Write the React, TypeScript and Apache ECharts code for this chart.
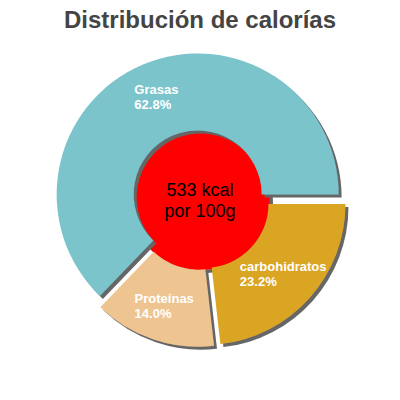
import * as echarts from "echarts";
import { useEffect, useRef } from "react";

const categories = ["Grasas", "Proteínas", "carbohidratos"];
const percents = [62.8, 14.0, 23.2];
const colors = ["#7bc4cc", "#eec591", "#daa520"];
const centerLines = ["533 kcal", "por 100g"];

const FONT = "'Liberation Sans', Arial, sans-serif";

export default function App(): React.ReactElement {
  const ref = useRef<HTMLDivElement | null>(null);

  useEffect(() => {
    const el = ref.current;
    if (el === null) return;
    const chart = echarts.init(el, null, { renderer: "svg" });

    const shadow = {
      shadowBlur: 0,
      shadowOffsetX: 3,
      shadowOffsetY: 3,
      shadowColor: "#666666",
    };

    chart.setOption({
      animation: false,
      title: {
        text: "Distribución de calorías",
        left: "center",
        top: 2,
        textStyle: {
          fontFamily: FONT,
          fontSize: 24,
          fontWeight: "bold",
          color: "#444444",
        },
      },
      series: [
        {
          type: "pie",
          center: [200, 200],
          radius: [64, 141],
          startAngle: 0,
          clockwise: false,
          selectedMode: "multiple",
          selectedOffset: 6,
          silent: true,
          labelLine: { show: false },
          label: {
            show: true,
            position: "inside",
            align: "center",
            formatter: (p: { dataIndex: number; name: string }) =>
              `{l|${p.name}}\n{l|${percents[p.dataIndex].toFixed(1)}%}`,
            rich: {
              l: {
                align: "left",
                color: "#ffffff",
                fontFamily: FONT,
                fontSize: 13,
                fontWeight: "bold",
                lineHeight: 15,
              },
            },
          },
          data: categories.map((name, i) => ({
            name,
            value: percents[i],
            selected: true,
            itemStyle: { color: colors[i], ...shadow },
            select: { itemStyle: { color: colors[i], ...shadow } },
          })),
        },
        {
          type: "pie",
          center: [200, 200],
          radius: [0, 70],
          silent: true,
          labelLine: { show: false },
          label: {
            show: true,
            position: "center",
            formatter: centerLines.join("\n"),
            color: "#000000",
            fontFamily: FONT,
            fontSize: 18,
            lineHeight: 21,
          },
          data: [{ name: "kcal", value: 1, itemStyle: { color: "#ff0000", ...shadow } }],
        },
      ],
    });

    return () => chart.dispose();
  }, []);

  return (
    <div
      ref={ref}
      style={{ position: "absolute", left: 0, top: 0, width: 400, height: 400 }}
    />
  );
}
